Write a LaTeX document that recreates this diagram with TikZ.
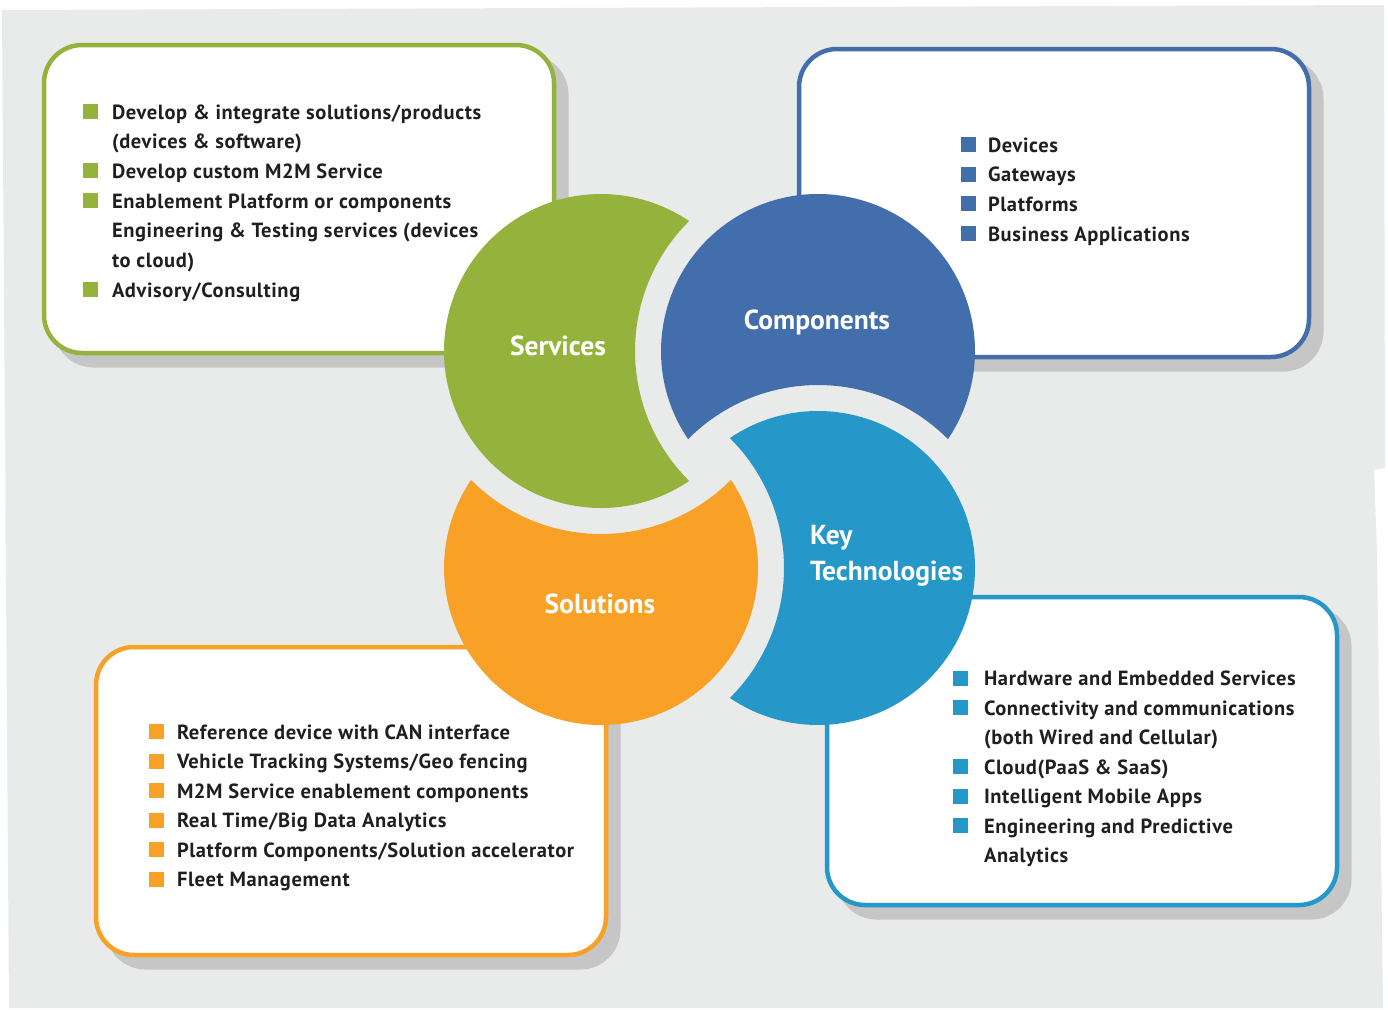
\documentclass[tikz,border=0pt]{standalone}
\usepackage{fontspec}
\setmainfont{PT Sans}
\newfontfamily\itemfont{PT Sans}[LetterSpace=3]
\definecolor{cgreen}{HTML}{95B33C}
\definecolor{cblue}{HTML}{436EAC}
\definecolor{ccyan}{HTML}{2697C9}
\definecolor{corange}{HTML}{F9A127}
\definecolor{bggray}{HTML}{E9EBEA}
\definecolor{shgray}{HTML}{C6C6C7}
\definecolor{txt}{HTML}{1F1F1F}
% crescent: centre, direction towards the cutting circle, colour
\newcommand\mycres[3]{%
  \fill[#3] (#1) ++({#2+55.85}:157)
    arc[start angle={#2+55.85}, end angle={#2+304.15}, radius=157]
    arc[start angle={#2+225.23}, end angle={#2+134.77}, radius=183] -- cycle;}
\begin{document}
\begin{tikzpicture}[x=1pt,y=-1pt,
  panel/.style={draw=#1, line width=4.5pt, fill=white, rounded corners=38pt,
    minimum width=510pt, minimum height=308pt, inner sep=0pt, outer sep=0pt},
  shadow/.style={fill=shgray, rounded corners=40pt,
    minimum width=515pt, minimum height=313pt, inner sep=0pt, outer sep=0pt},
  bul/.style={fill=#1, minimum size=15pt, inner sep=0pt, outer sep=0pt},
  item/.style={anchor=base west, inner sep=0pt, outer sep=0pt, text=txt,
    font=\itemfont\fontsize{20.5}{24}\selectfont\bfseries},
  lbl/.style={inner sep=0pt, outer sep=0pt, text=white,
    font=\fontsize{27.5}{32}\selectfont\bfseries}
]
\useasboundingbox (0,0) rectangle (1388,1009);
\fill[white] (0,0) rectangle (1388,1009);
% background sheet
\fill[bggray] (2,10) -- (1384,5) -- (1385,468) -- (1374,470) -- (1377,550)
  -- (1383,1008) -- (9,1008) -- cycle;

% shadows
\node[shadow] (gsh) at (311,211) {};
\node[shadow] (bsh) at (1066,215) {};
\node[shadow] (csh) at (1094,763) {};
\node[shadow] (osh) at (363,813) {};
% panels
\node[panel=cgreen] (gbox) at (299,199) {};
\node[panel=cblue] (bbox) at (1054,203) {};
\node[panel=ccyan] (cbox) at (1082,751) {};
\node[panel=corange] (obox) at (351,801) {};

% crescents
\coordinate (S) at (601,351);
\coordinate (C) at (818,351);
\coordinate (K) at (818,568);
\coordinate (O) at (601,568);
\mycres{S}{0}{cgreen}
\mycres{C}{90}{cblue}
\mycres{K}{180}{ccyan}
\mycres{O}{270}{corange}

% circle labels
\node[lbl, anchor=base] (lS) at (558,355) {Services};
\node[lbl, anchor=base] (lC) at (817,329) {Components};
\node[lbl, anchor=base] (lO) at (600,613) {Solutions};
\node[lbl, anchor=base west] (lK1) at (810,544) {Key};
\node[lbl, anchor=base west] (lK2) at (810,580) {Technologies};

% green list
\node[bul=cgreen] (gb1) at (90.5,111.5) {};
\node[item] (g1) at (112,119) {Develop \& integrate solutions/products};
\node[item] (g2) at (112,148.7) {(devices \& software)};
\node[bul=cgreen] (gb3) at (90.5,170.9) {};
\node[item] (g3) at (112,178.4) {Develop custom M2M Service};
\node[bul=cgreen] (gb4) at (90.5,200.6) {};
\node[item] (g4) at (112,208.1) {Enablement Platform or components};
\node[item] (g5) at (112,237.8) {Engineering \& Testing services (devices};
\node[item] (g6) at (112,267.5) {to cloud)};
\node[bul=cgreen] (gb7) at (90.5,289.7) {};
\node[item] (g7) at (112,297.2) {Advisory/Consulting};

% blue list
\node[bul=cblue] (bb1) at (968.5,144.5) {};
\node[item] (b1) at (988,152) {Devices};
\node[bul=cblue] (bb2) at (968.5,174.2) {};
\node[item] (b2) at (988,181.7) {Gateways};
\node[bul=cblue] (bb3) at (968.5,203.9) {};
\node[item] (b3) at (988,211.4) {Platforms};
\node[bul=cblue] (bb4) at (968.5,233.6) {};
\node[item] (b4) at (988,241.1) {Business Applications};

% orange list
\node[bul=corange] (ob1) at (156.5,731.8) {};
\node[item] (o1) at (177,739.3) {Reference device with CAN interface};
\node[bul=corange] (ob2) at (156.5,761.3) {};
\node[item] (o2) at (177,768.8) {Vehicle Tracking Systems/Geo fencing};
\node[bul=corange] (ob3) at (156.5,790.8) {};
\node[item] (o3) at (177,798.3) {M2M Service enablement components};
\node[bul=corange] (ob4) at (156.5,820.3) {};
\node[item] (o4) at (177,827.8) {Real Time/Big Data Analytics};
\node[bul=corange] (ob5) at (156.5,849.8) {};
\node[item] (o5) at (177,857.3) {Platform Components/Solution accelerator};
\node[bul=corange] (ob6) at (156.5,879.3) {};
\node[item] (o6) at (177,886.8) {Fleet Management};

% cyan list
\node[bul=ccyan] (cb1) at (960.5,678.2) {};
\node[item] (c1) at (984,685.7) {Hardware and Embedded Services};
\node[bul=ccyan] (cb2) at (960.5,707.7) {};
\node[item] (c2) at (984,715.2) {Connectivity and communications};
\node[item] (c3) at (984,744.7) {(both Wired and Cellular)};
\node[bul=ccyan] (cb4) at (960.5,766.7) {};
\node[item] (c4) at (984,774.2) {Cloud(PaaS \& SaaS)};
\node[bul=ccyan] (cb5) at (960.5,796.2) {};
\node[item] (c5) at (984,803.7) {Intelligent Mobile Apps};
\node[bul=ccyan] (cb6) at (960.5,825.7) {};
\node[item] (c6) at (984,833.2) {Engineering and Predictive};
\node[item] (c7) at (984,862.7) {Analytics};
\end{tikzpicture}
\end{document}
